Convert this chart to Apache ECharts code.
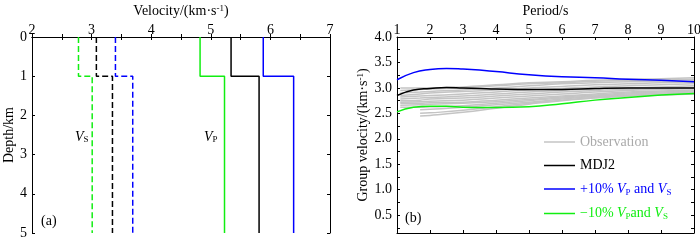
<!DOCTYPE html>
<html>
<head>
<meta charset="utf-8">
<script src="https://cdn.jsdelivr.net/npm/echarts@6/dist/echarts.min.js"></script>
<style>
html,body{margin:0;padding:0;background:#fff;}
#main{width:700px;height:244px;}
</style>
</head>
<body>
<div id="main"></div>
<script>
// panel (a): layered velocity models, [top depth, bottom depth] per layer
var layerDepths = [0, 1, 5];
var vsModel = [3.08, 3.35];
var vsPlus = [3.40, 3.69];
var vsMinus = [2.78, 3.01];
var vpModel = [5.34, 5.81];
var vpPlus = [5.88, 6.39];
var vpMinus = [4.82, 5.23];

// panel (b): dispersion curves
var periods = [1, 1.5, 2, 2.5, 3, 3.5, 4, 5, 6, 7, 8, 9, 10];
var mdj2 = [2.85, 2.96, 2.99, 3.01, 3.0, 2.99, 2.98, 2.97, 2.97, 2.99, 3.0, 3.0, 3.0];
var plus10 = [3.16, 3.3, 3.36, 3.38, 3.37, 3.35, 3.32, 3.26, 3.22, 3.2, 3.17, 3.15, 3.12];
var minus10 = [2.53, 2.62, 2.64, 2.64, 2.62, 2.615, 2.615, 2.63, 2.69, 2.76, 2.81, 2.86, 2.89];

var obsPeriods = [1.1, 1.7, 2, 3, 4, 5, 6, 7, 8, 9, 10];
var obs1 = [3.0, 3.0, 3.0, 3.02, 3.06, 3.1, 3.12, 3.15, 3.17, 3.18, 3.2];
var obs2 = [2.95, 2.97, 2.98, 3.0, 3.04, 3.08, 3.1, 3.13, 3.15, 3.16, 3.17];
var obs3 = [2.9, 2.92, 2.93, 2.96, 3.0, 3.04, 3.08, 3.1, 3.12, 3.13, 3.14];
var obs4 = [2.85, 2.88, 2.9, 2.93, 2.96, 3.0, 3.03, 3.06, 3.08, 3.1, 3.11];
var obs5 = [2.82, 2.84, 2.85, 2.88, 2.92, 2.96, 2.99, 3.02, 3.04, 3.06, 3.08];
var obs6 = [2.78, 2.8, 2.81, 2.84, 2.88, 2.92, 2.95, 2.98, 3.0, 3.02, 3.04];
var obs7 = [2.75, 2.76, 2.78, 2.8, 2.84, 2.88, 2.92, 2.95, 2.97, 2.99, 3.01];
var obs8 = [2.72, 2.73, 2.74, 2.76, 2.8, 2.84, 2.88, 2.92, 2.95, 2.97, 2.99];
var obs9 = [2.7, 2.7, 2.71, 2.72, 2.76, 2.8, 2.84, 2.88, 2.92, 2.94, 2.96];
var obs10 = [2.66, 2.67, 2.68, 2.7, 2.73, 2.77, 2.82, 2.86, 2.9, 2.92, 2.94];
var obs11 = [2.62, 2.62, 2.63, 2.65, 2.7, 2.75, 2.8, 2.84, 2.88, 2.9, 2.92];
var obs12 = [null, 2.57, 2.58, 2.62, 2.67, 2.72, 2.78, 2.83, 2.86, 2.88, 2.9];
var obs13 = [null, 2.5, 2.51, 2.56, 2.63, 2.7, 2.76, 2.81, 2.85, 2.87, 2.89];
var obs14 = [null, 2.45, 2.46, 2.52, 2.6, 2.68, 2.75, 2.8, 2.84, 2.86, 2.88];
var observations = [obs1, obs2, obs3, obs4, obs5, obs6, obs7, obs8, obs9, obs10, obs11, obs12, obs13, obs14];

var velTicks = [0.25, 0.5, 0.75, 1, 1.25, 1.5, 1.75, 2, 2.25, 2.5, 2.75, 3, 3.25, 3.5, 3.75, 4];
var velLabels = [0.5, 1, 1.5, 2, 2.5, 3, 3.5, 4];

var FONT = "Liberation Serif";
var GREEN = "#11ee11", BLUE = "#0000ff", BLACK = "#000000", GRAY = "#c4c4c4";

function stepLine(v) {
    // profile as steps: vertical within layer, horizontal at interface
    var pts = [];
    for (var i = 0; i < v.length; i++) {
        pts.push([v[i], layerDepths[i]]);
        pts.push([v[i], layerDepths[i + 1]]);
    }
    return pts;
}
function pairs(xs, ys) {
    var out = [];
    for (var i = 0; i < xs.length; i++) if (ys[i] != null) out.push([xs[i], ys[i]]);
    return out;
}

var axisLine = {show: true, lineStyle: {color: BLACK, width: 1}};
var tick = {show: true, inside: true, length: 3, lineStyle: {color: BLACK}};
var labelStyle = {fontFamily: FONT, fontSize: 14, color: BLACK};
var nameStyle = {fontFamily: FONT, fontSize: 14, color: BLACK,
    rich: {sup: {fontFamily: FONT, fontSize: 9, verticalAlign: "top", lineHeight: 10, color: BLACK}}};

var chart = echarts.init(document.getElementById("main"));

var series = [];
function profile(name, v, color, dashed) {
    series.push({name: name, type: "line", xAxisIndex: 0, yAxisIndex: 0, data: stepLine(v),
        symbol: "none", animation: false,
        lineStyle: {color: color, width: 1.5, type: dashed ? [6, 3] : "solid"}});
}
profile("vsModel", vsModel, BLACK, true);
profile("vsPlus", vsPlus, BLUE, true);
profile("vsMinus", vsMinus, GREEN, true);
profile("vpModel", vpModel, BLACK, false);
profile("vpPlus", vpPlus, BLUE, false);
profile("vpMinus", vpMinus, GREEN, false);

observations.forEach(function (o) {
    series.push({name: "Observation", type: "line", xAxisIndex: 2, yAxisIndex: 2, data: pairs(obsPeriods, o),
        symbol: "none", smooth: true, animation: false, itemStyle: {color: GRAY},
        lineStyle: {color: GRAY, width: 1.5}});
});
[["MDJ2", mdj2, BLACK], ["+10%", plus10, BLUE], ["-10%", minus10, GREEN]].forEach(function (s) {
    series.push({name: s[0], type: "line", xAxisIndex: 2, yAxisIndex: 2, data: pairs(periods, s[1]),
        symbol: "none", smooth: true, animation: false, itemStyle: {color: s[2]},
        lineStyle: {color: s[2], width: 1.5}});
});

var legendRich = {
    vb: {fontFamily: FONT, fontSize: 14, fontStyle: "italic", color: BLUE, lineHeight: 16},
    sb: {fontFamily: FONT, fontSize: 9, color: BLUE, verticalAlign: "bottom", lineHeight: 9},
    tb: {fontFamily: FONT, fontSize: 14, color: BLUE, lineHeight: 16},
    vg: {fontFamily: FONT, fontSize: 14, fontStyle: "italic", color: GREEN, lineHeight: 16},
    sg: {fontFamily: FONT, fontSize: 9, color: GREEN, verticalAlign: "bottom", lineHeight: 9},
    tg: {fontFamily: FONT, fontSize: 14, color: GREEN, lineHeight: 16},
    to: {fontFamily: FONT, fontSize: 14, color: "#aaaaaa", lineHeight: 16},
    tk: {fontFamily: FONT, fontSize: 14, color: BLACK, lineHeight: 16}
};

chart.setOption({
    animation: false,
    grid: [
        {left: 32, top: 37, right: 370, bottom: 11, outerBoundsMode: "none"},
        {left: 397, top: 37, right: 6, bottom: 11, outerBoundsMode: "none"}
    ],
    legend: {
        orient: "vertical", left: 539, top: 130, icon: "rect", itemWidth: 31, itemHeight: 1.5, itemGap: 9.5,
        data: ["Observation", "MDJ2", "+10%", "-10%"],
        textStyle: {fontFamily: FONT, fontSize: 14, rich: legendRich},
        formatter: function (n) {
            if (n === "Observation") return "{to|Observation}";
            if (n === "MDJ2") return "{tk|MDJ2}";
            if (n === "+10%") return "{tb|+10% }{vb|V}{sb|P}{tb| and }{vb|V}{sb|S}";
            return "{tg|\u221210% }{vg|V}{sg|P}{tg|and }{vg|V}{sg|S}";
        }
    },
    xAxis: [
        {gridIndex: 0, type: "value", position: "top", min: 2, max: 7, interval: 1,
            name: "Velocity/(km\u00b7s{sup|-1})", nameLocation: "middle", nameGap: 16, nameTextStyle: nameStyle,
            axisLine: axisLine, axisTick: tick, minorTick: {show: true, splitNumber: 2, length: 3, lineStyle: {color: BLACK}},
            axisLabel: Object.assign({margin: 0}, labelStyle), splitLine: {show: false}},
        {gridIndex: 0, type: "value", position: "bottom", min: 2, max: 7, interval: 1,
            axisLine: axisLine, axisTick: tick, minorTick: {show: true, splitNumber: 2, length: 3, lineStyle: {color: BLACK}},
            axisLabel: {show: false}, splitLine: {show: false}},
        {gridIndex: 1, type: "value", position: "top", min: 1, max: 10, interval: 1,
            name: "Period/s", nameLocation: "middle", nameGap: 16, nameTextStyle: nameStyle,
            axisLine: axisLine, axisTick: tick, axisLabel: Object.assign({margin: 0}, labelStyle), splitLine: {show: false}},
        {gridIndex: 1, type: "value", position: "bottom", min: 1, max: 10, interval: 1,
            axisLine: axisLine, axisTick: tick, axisLabel: {show: false}, splitLine: {show: false}}
    ],
    yAxis: [
        {gridIndex: 0, type: "value", inverse: true, min: 0, max: 5, interval: 1,
            name: "Depth/km", nameLocation: "middle", nameGap: 16, nameTextStyle: nameStyle,
            axisLine: axisLine, axisTick: tick, axisLabel: Object.assign({margin: 5}, labelStyle), splitLine: {show: false}},
        {gridIndex: 0, type: "value", position: "right", inverse: true, min: 0, max: 5, interval: 1,
            axisLine: axisLine, axisTick: tick, axisLabel: {show: false}, splitLine: {show: false}},
        {gridIndex: 1, type: "value", min: 0.15, max: 4,
            name: "Group velocity/(km\u00b7s{sup|-1})", nameLocation: "middle", nameGap: 27, nameTextStyle: nameStyle,
            axisLine: axisLine,
            axisTick: Object.assign({customValues: velTicks}, tick),
            axisLabel: Object.assign({margin: 5, customValues: velLabels,
                formatter: function (v) { return v.toFixed(1); }}, labelStyle),
            splitLine: {show: false}},
        {gridIndex: 1, type: "value", position: "right", min: 0.15, max: 4,
            axisLine: axisLine, axisTick: Object.assign({customValues: velTicks}, tick),
            axisLabel: {show: false}, splitLine: {show: false}}
    ],
    graphic: [
        {type: "text", left: 75, top: 130, style: {text: "{v|V}{s|S}", rich: {
            v: {fontFamily: FONT, fontSize: 14, fontStyle: "italic", fill: BLACK},
            s: {fontFamily: FONT, fontSize: 9, fill: BLACK, verticalAlign: "bottom", lineHeight: 9}}}},
        {type: "text", left: 204, top: 130, style: {text: "{v|V}{s|P}", rich: {
            v: {fontFamily: FONT, fontSize: 14, fontStyle: "italic", fill: BLACK},
            s: {fontFamily: FONT, fontSize: 9, fill: BLACK, verticalAlign: "bottom", lineHeight: 9}}}},
        {type: "text", left: 41, top: 214, style: {text: "(a)", fontFamily: FONT, fontSize: 14, fill: BLACK}},
        {type: "text", left: 405, top: 211, style: {text: "(b)", fontFamily: FONT, fontSize: 14, fill: BLACK}}
    ],
    series: series
});
</script>
</body>
</html>
